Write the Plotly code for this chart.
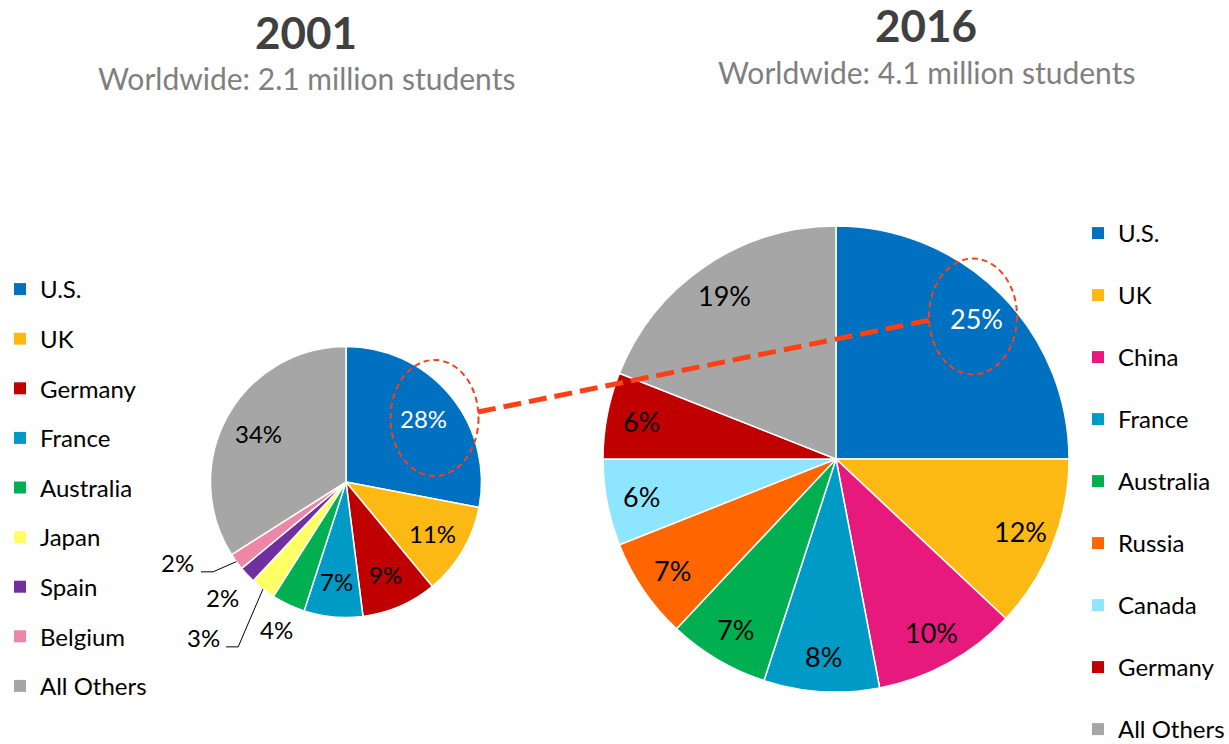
import math
import plotly.graph_objects as go

W, H = 1229, 744
FONT = "Lato"

# ---------------- data ----------------
labels_2001 = ["U.S.", "UK", "Germany", "France", "Australia", "Japan", "Spain", "Belgium", "All Others"]
values_2001 = [28, 11, 9, 7, 4, 3, 2, 2, 34]
colors_2001 = ["#0070C0", "#FDB913", "#C00000", "#009AC7", "#00B050", "#FFFF66", "#7030A0", "#EE86A8", "#A6A6A6"]

labels_2016 = ["U.S.", "UK", "China", "France", "Australia", "Russia", "Canada", "Germany", "All Others"]
values_2016 = [25, 12, 10, 8, 7, 7, 6, 6, 19]
colors_2016 = ["#0070C0", "#FDB913", "#E8197D", "#009AC7", "#00B050", "#FF6600", "#8EE5FF", "#C00000", "#A6A6A6"]

titles = ["2001", "2016"]
subtitles = ["Worldwide: 2.1 million students", "Worldwide: 4.1 million students"]

# ---------------- layout settings (pixels) ----------------
PIE_L = dict(cx=346, cy=482, r=135.5, k_in=0.74, size=24)
PIE_R = dict(cx=836, cy=459, r=233, k_in=0.85, size=27)
# outside label placement for the small 2001 slices: (radius factor, angle shift deg, leader line)
OUTSIDE_2001 = {"Australia": (1.2, 0, False), "Japan": (1.56, 4.7, True),
                "Spain": (1.25, 0, False), "Belgium": (1.376, 10.3, True)}


def px_x(x):
    return x / W


def px_y(y):
    return 1 - y / H


def domain(p):
    return dict(x=[px_x(p["cx"] - p["r"]), px_x(p["cx"] + p["r"])],
                y=[px_y(p["cy"] + p["r"]), px_y(p["cy"] - p["r"])])


def pie_annotations(labels, values, p, outside):
    anns, shp = [], []
    total = float(sum(values))
    cum = 0.0
    for lab, v in zip(labels, values):
        mid = (cum + v / 2.0) / total * 360.0
        cum += v
        k, dth, leader = outside.get(lab, (p["k_in"], 0, False))
        th = math.radians(mid + dth)
        x = p["cx"] + k * p["r"] * math.sin(th)
        y = p["cy"] - k * p["r"] * math.cos(th)
        color = "white" if lab == "U.S." else "black"
        anns.append(dict(x=px_x(x), y=px_y(y), xref="paper", yref="paper", text=f"{v}%",
                         showarrow=False, xanchor="center", yanchor="middle",
                         font=dict(family=FONT, size=p["size"], color=color)))
        if leader:
            t0 = math.radians(mid)
            sx = p["cx"] + p["r"] * math.sin(t0)
            sy = p["cy"] - p["r"] * math.cos(t0)
            ex, ey = x + 23, y + 9
            bx, by = ex + 12, ey
            path = (f"M {px_x(sx)},{px_y(sy)} L {px_x(bx)},{px_y(by)} L {px_x(ex)},{px_y(ey)}")
            shp.append(dict(type="path", xref="paper", yref="paper", path=path,
                            line=dict(color="black", width=1)))
    return anns, shp


fig = go.Figure()

fig.add_trace(go.Pie(
    labels=labels_2001, values=values_2001, sort=False, direction="clockwise", rotation=0,
    marker=dict(colors=colors_2001, line=dict(color="white", width=1.5)),
    textinfo="none", showlegend=False, hoverinfo="label+value", domain=domain(PIE_L),
))
fig.add_trace(go.Pie(
    labels=labels_2016, values=values_2016, sort=False, direction="clockwise", rotation=0,
    marker=dict(colors=colors_2016, line=dict(color="white", width=1.5)),
    textinfo="none", showlegend=False, hoverinfo="label+value", domain=domain(PIE_R),
))

# legend entries
for i, (lab, col) in enumerate(zip(labels_2001, colors_2001)):
    fig.add_trace(go.Scatter(x=[None], y=[None], mode="markers", name=lab,
                             marker=dict(symbol="square", size=12, color=col),
                             legend="legend", legendgroup=f"a{i}", showlegend=True, hoverinfo="skip"))
for i, (lab, col) in enumerate(zip(labels_2016, colors_2016)):
    fig.add_trace(go.Scatter(x=[None], y=[None], mode="markers", name=lab,
                             marker=dict(symbol="square", size=12, color=col),
                             legend="legend2", legendgroup=f"b{i}", showlegend=True, hoverinfo="skip"))

annotations, shapes = [], []
for cx, ty, sy, t, s in [(306, 32, 78, titles[0], subtitles[0]), (926, 25, 72, titles[1], subtitles[1])]:
    annotations.append(dict(x=px_x(cx), y=px_y(ty), xref="paper", yref="paper", text=f"<b>{t}</b>",
                            showarrow=False, xanchor="center", yanchor="middle",
                            font=dict(family=FONT, size=44, color="#404040")))
    annotations.append(dict(x=px_x(cx), y=px_y(sy), xref="paper", yref="paper", text=s,
                            showarrow=False, xanchor="center", yanchor="middle",
                            font=dict(family=FONT, size=30, color="#7F7F7F")))

a1, s1 = pie_annotations(labels_2001, values_2001, PIE_L, OUTSIDE_2001)
a2, s2 = pie_annotations(labels_2016, values_2016, PIE_R, {})
annotations += a1 + a2
shapes += s1 + s2

for ecx, ecy in [(434.5, 418), (973, 316.5)]:
    shapes.append(dict(type="circle", xref="paper", yref="paper",
                       x0=px_x(ecx - 44), x1=px_x(ecx + 44), y0=px_y(ecy + 58), y1=px_y(ecy - 58),
                       line=dict(color="#F2421B", width=2, dash="6px,4px")))
shapes.append(dict(type="line", xref="paper", yref="paper",
                   x0=px_x(478), y0=px_y(412), x1=px_x(930), y1=px_y(320),
                   line=dict(color="#FF4014", width=5, dash="18px,8px")))

fig.update_layout(
    width=W, height=H, autosize=False,
    margin=dict(l=0, r=0, t=0, b=0, pad=0, autoexpand=False),
    paper_bgcolor="white", plot_bgcolor="white",
    xaxis=dict(visible=False), yaxis=dict(visible=False),
    annotations=annotations, shapes=shapes,
    legend=dict(x=0.0, y=px_y(267), xanchor="left", yanchor="top",
                font=dict(family=FONT, size=24, color="black"), tracegroupgap=15.4,
                bgcolor="rgba(0,0,0,0)"),
    legend2=dict(x=px_x(1078), y=px_y(211), xanchor="left", yanchor="top",
                 font=dict(family=FONT, size=24, color="black"), tracegroupgap=27.8,
                 bgcolor="rgba(0,0,0,0)"),
)

fig.write_html("out.html", config={"displayModeBar": False},
               post_script="document.body.style.margin='0';document.body.style.overflow='hidden';")
